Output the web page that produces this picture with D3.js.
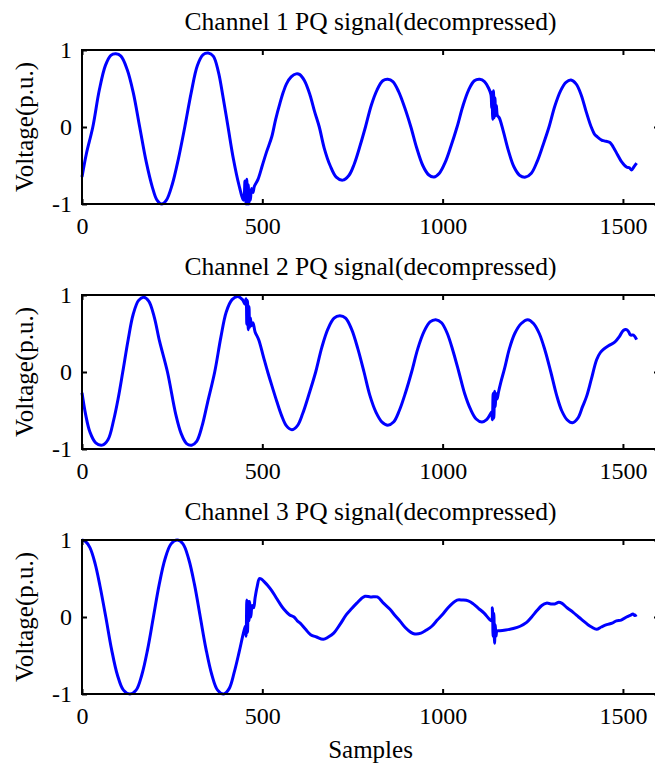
<!DOCTYPE html>
<html>
<head>
<meta charset="utf-8">
<script src="https://cdn.jsdelivr.net/npm/d3@7"></script>
<style>
  body { margin: 0; background: #fff; }
  svg { display: block; }
  text { font-family: "Liberation Serif", "Times New Roman", serif; fill: #000; }
</style>
</head>
<body>
<svg id="chart"></svg>
<script>
// Tick values and titles
var xTicks = [0, 500, 1000, 1500];
var yTicks = [-1, 0, 1];
var titles = ["Channel 1 PQ signal(decompressed)",
              "Channel 2 PQ signal(decompressed)",
              "Channel 3 PQ signal(decompressed)"];

// Signal samples: [sample, voltage p.u.]
var ch1Points = [[0,-0.65],[12,-0.35],[30,0],[48,0.48],[65,0.8],[80,0.93],[94,0.95],[108,0.92],[125,0.75],[142,0.45],[160,0],
  [178,-0.45],[195,-0.78],[208,-0.95],[221,-1.0],[234,-0.95],[250,-0.75],[267,-0.42],[285,0],[303,0.45],[320,0.8],[336,0.94],
  [350,0.96],[364,0.92],[378,0.72],[390,0.42],[405,0],[420,-0.42],[435,-0.75],[448,-0.95],[452,-0.7],[455,-1.0],[457,-0.68],
  [459,-1.0],[461,-0.75],[463,-1.0],[465,-0.82],[467,-0.95],[470,-0.8],[474,-0.85],[478,-0.77],[488,-0.68],[500,-0.5],
  [512,-0.32],[526,-0.13],[537,0.1],[549,0.31],[558,0.45],[567,0.56],[580,0.65],[594,0.69],[604,0.68],[617,0.6],[632,0.42],
  [645,0.2],[658,0],[672,-0.28],[688,-0.5],[705,-0.65],[723,-0.69],[740,-0.63],[755,-0.48],[770,-0.26],[786,0],[802,0.28],
  [818,0.48],[834,0.6],[848,0.62],[862,0.59],[878,0.46],[895,0.25],[912,0],[928,-0.27],[945,-0.5],[961,-0.62],[976,-0.65],
  [991,-0.6],[1007,-0.46],[1023,-0.25],[1040,0],[1056,0.27],[1072,0.48],[1088,0.6],[1103,0.62],[1116,0.59],[1128,0.5],
  [1134,0.42],[1136,0.25],[1137,0.45],[1139,0.1],[1141,0.47],[1143,0.12],[1145,0.38],[1147,0.15],[1149,0.28],[1152,0.15],
  [1157,0.12],[1168,-0.05],[1182,-0.3],[1198,-0.52],[1214,-0.63],[1230,-0.65],[1246,-0.6],[1262,-0.45],[1278,-0.24],[1295,0],
  [1311,0.27],[1327,0.47],[1342,0.58],[1356,0.61],[1370,0.56],[1384,0.42],[1398,0.2],[1412,0],[1422,-0.1],[1427,-0.12],
  [1441,-0.17],[1448,-0.18],[1464,-0.2],[1473,-0.26],[1485,-0.36],[1496,-0.45],[1510,-0.52],[1518,-0.53],[1524,-0.56],
  [1530,-0.52],[1538,-0.47]];

var ch2Points = [[0,-0.27],[10,-0.55],[22,-0.78],[38,-0.92],[56,-0.95],[72,-0.88],[88,-0.62],[100,-0.35],[113,0],[128,0.42],
  [142,0.75],[157,0.93],[171,0.97],[185,0.92],[200,0.72],[215,0.4],[237,0],[260,-0.55],[275,-0.8],[290,-0.93],[304,-0.95],
  [318,-0.9],[333,-0.7],[348,-0.4],[368,0],[385,0.45],[400,0.78],[416,0.94],[432,0.98],[445,0.94],[452,0.88],[455,0.95],
  [457,0.62],[459,0.93],[461,0.55],[463,0.85],[465,0.58],[467,0.7],[470,0.6],[474,0.64],[480,0.52],[490,0.42],[503,0.2],
  [515,0],[528,-0.2],[540,-0.38],[553,-0.56],[567,-0.7],[582,-0.75],[597,-0.7],[612,-0.54],[630,-0.28],[648,0],[665,0.32],
  [682,0.56],[699,0.7],[715,0.73],[731,0.7],[748,0.55],[765,0.3],[782,0],[798,-0.3],[815,-0.52],[832,-0.65],[848,-0.69],
  [864,-0.65],[880,-0.5],[897,-0.27],[914,0],[931,0.3],[948,0.52],[965,0.65],[981,0.68],[997,0.64],[1013,0.5],[1029,0.27],
  [1045,0],[1061,-0.28],[1077,-0.48],[1093,-0.61],[1109,-0.65],[1122,-0.62],[1132,-0.55],[1136,-0.52],[1138,-0.62],
  [1140,-0.28],[1142,-0.6],[1144,-0.25],[1146,-0.45],[1148,-0.28],[1151,-0.35],[1155,-0.26],[1161,-0.14],[1172,0.05],
  [1185,0.3],[1200,0.5],[1218,0.63],[1236,0.68],[1252,0.63],[1268,0.5],[1284,0.28],[1300,0],[1316,-0.3],[1330,-0.5],
  [1345,-0.62],[1360,-0.66],[1375,-0.6],[1388,-0.45],[1399,-0.32],[1412,-0.1],[1427,0.16],[1437,0.25],[1445,0.29],
  [1460,0.34],[1478,0.39],[1490,0.46],[1501,0.54],[1510,0.55],[1516,0.52],[1521,0.48],[1529,0.48],[1538,0.42]];

var ch3Points = [[0,1.0],[10,0.98],[22,0.9],[36,0.7],[50,0.4],[66,0],[82,-0.42],[98,-0.75],[115,-0.95],[133,-1.0],[150,-0.95],
  [166,-0.75],[182,-0.42],[198,0],[214,0.42],[230,0.75],[247,0.95],[264,1.0],[280,0.95],[296,0.75],[312,0.42],[328,0],
  [344,-0.42],[360,-0.75],[376,-0.95],[393,-1.0],[408,-0.93],[422,-0.72],[436,-0.45],[448,-0.2],[453,-0.12],[455,-0.25],
  [457,0.22],[459,-0.2],[461,0.2],[463,-0.05],[465,0.2],[468,0.0],[472,0.15],[476,0.12],[480,0.25],[486,0.4],[492,0.5],
  [498,0.49],[505,0.46],[515,0.41],[525,0.35],[536,0.27],[548,0.18],[560,0.1],[575,0.03],[588,0.0],[597,-0.05],[605,-0.08],
  [620,-0.16],[634,-0.23],[650,-0.26],[669,-0.29],[683,-0.26],[698,-0.21],[715,-0.1],[733,0.03],[748,0.11],[762,0.18],
  [775,0.24],[785,0.27],[800,0.26],[819,0.26],[836,0.18],[854,0.1],[868,0.02],[883,-0.06],[897,-0.14],[912,-0.2],[923,-0.22],
  [940,-0.21],[955,-0.17],[970,-0.12],[985,-0.04],[999,0.03],[1015,0.12],[1028,0.18],[1040,0.22],[1055,0.22],[1071,0.21],
  [1085,0.17],[1100,0.11],[1115,0.05],[1130,-0.03],[1136,-0.05],[1138,0.12],[1140,-0.25],[1142,0.05],[1144,-0.34],
  [1146,-0.1],[1148,-0.25],[1151,-0.18],[1159,-0.18],[1175,-0.17],[1196,-0.15],[1215,-0.12],[1233,-0.07],[1247,0.0],
  [1261,0.08],[1275,0.15],[1288,0.18],[1300,0.17],[1311,0.17],[1322,0.19],[1330,0.18],[1345,0.12],[1362,0.06],[1377,0.0],
  [1390,-0.05],[1403,-0.1],[1413,-0.13],[1427,-0.16],[1440,-0.13],[1455,-0.1],[1470,-0.08],[1482,-0.05],[1495,-0.04],
  [1510,0.0],[1520,0.02],[1528,0.04],[1533,0.02],[1538,0.03]];

var channels = [ch1Points, ch2Points, ch3Points];

// Figure layout
var width = 655,
    height = 769,
    left = 82,
    right = 659,
    panelTops = [50, 295, 540],
    panelHeight = 154,
    tickLen = 5;

var svg = d3.select("#chart")
    .attr("width", width)
    .attr("height", height);

var x = d3.scaleLinear().domain([0, 1600]).range([left, right]);

channels.forEach(function (points, i) {
    var top = panelTops[i],
        bottom = top + panelHeight;
    var y = d3.scaleLinear().domain([-1, 1]).range([bottom, top]);

    var g = svg.append("g");

    // Signal line
    var line = d3.line()
        .x(function (d) { return x(d[0]); })
        .y(function (d) { return y(d[1]); })
        .curve(d3.curveCatmullRom.alpha(0.5));

    g.append("path")
        .datum(points)
        .attr("d", line)
        .attr("fill", "none")
        .attr("stroke", "#0000ff")
        .attr("stroke-width", 3)
        .attr("stroke-linejoin", "round");

    // Bottom / top / left / right axes with inward ticks (matlab style)
    var xAxis = d3.axisBottom(x).tickValues(xTicks).tickSizeInner(-tickLen).tickSizeOuter(0).tickPadding(13).tickFormat(d3.format("d"));
    var xTop = d3.axisTop(x).tickValues(xTicks).tickSizeInner(-tickLen).tickSizeOuter(0).tickFormat("");
    var yAxis = d3.axisLeft(y).tickValues(yTicks).tickSizeInner(-tickLen).tickSizeOuter(0).tickPadding(10).tickFormat(d3.format("d"));
    var yRight = d3.axisRight(y).tickValues(yTicks).tickSizeInner(-tickLen).tickSizeOuter(0).tickFormat("");

    var ax = [
        g.append("g").attr("transform", "translate(0," + bottom + ")").call(xAxis),
        g.append("g").attr("transform", "translate(0," + top + ")").call(xTop),
        g.append("g").attr("transform", "translate(" + left + ",0)").call(yAxis),
        g.append("g").attr("transform", "translate(" + right + ",0)").call(yRight)
    ];
    ax.forEach(function (a) {
        a.select(".domain").remove();
        a.selectAll("line").attr("stroke", "#000").attr("stroke-width", 2);
        a.selectAll("text").style("font-size", "24px").attr("fill", "#000")
            .style("font-family", '"Liberation Serif", "Times New Roman", serif');
    });
    ax[2].selectAll("text").text(function (d) { return d < 0 ? "-" + Math.abs(d) : d; });

    // Box around the axes
    g.append("rect")
        .attr("x", left)
        .attr("y", top)
        .attr("width", right - left)
        .attr("height", panelHeight)
        .attr("fill", "none")
        .attr("stroke", "#000")
        .attr("stroke-width", 2);

    // Title
    g.append("text")
        .attr("x", (left + right) / 2)
        .attr("y", top - 20)
        .style("text-anchor", "middle")
        .style("font-size", "25.5px")
        .text(titles[i]);

    // Y label
    g.append("text")
        .attr("transform", "translate(33," + (top + panelHeight / 2) + ") rotate(-90)")
        .style("text-anchor", "middle")
        .style("font-size", "25px")
        .text("Voltage(p.u.)");
});

// X label on last panel
svg.append("text")
    .attr("x", (left + right) / 2)
    .attr("y", 758)
    .style("text-anchor", "middle")
    .style("font-size", "25px")
    .text("Samples");
</script>
</body>
</html>
